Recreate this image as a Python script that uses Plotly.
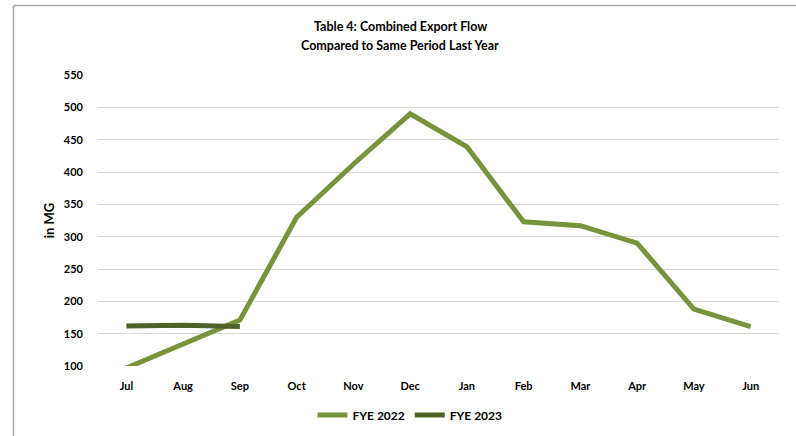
import plotly.graph_objects as go

months = ["Jul", "Aug", "Sep", "Oct", "Nov", "Dec", "Jan", "Feb", "Mar", "Apr", "May", "Jun"]
fye2022 = [97, 134, 171, 330, 412, 490, 439, 323, 317, 290, 188, 161]
fye2023_months = ["Jul", "Aug", "Sep"]
fye2023 = [162, 163, 161]
y_ticks = [100, 150, 200, 250, 300, 350, 400, 450, 500, 550]
title_lines = ["Table 4: Combined Export Flow", "Compared to Same Period Last Year"]

FONT = "Lato, Carlito, 'Liberation Sans', sans-serif"

fig = go.Figure()
fig.add_trace(go.Scatter(x=months, y=fye2022, mode="lines", name="FYE 2022",
                         line=dict(color="#77933C", width=5)))
fig.add_trace(go.Scatter(x=fye2023_months, y=fye2023, mode="lines", name="FYE 2023",
                         line=dict(color="#4F6228", width=5)))

L, R, T, B = 98, 17, 75, 70
W, H = 796, 436
pw, ph = W - L - R, H - T - B

def px2x(px):
    return (px - L) / pw

def py2y(py):
    return (H - B - py) / ph

fig.update_layout(
    width=W, height=H,
    margin=dict(l=L, r=R, t=T, b=B, autoexpand=False),
    paper_bgcolor="white", plot_bgcolor="white",
    font=dict(family=FONT, color="#000000"),
    showlegend=True,
    legend=dict(orientation="h", x=px2x(410), xanchor="center", y=py2y(415), yanchor="middle",
                font=dict(size=12, weight="bold"), itemwidth=30, tracegroupgap=0),
    xaxis=dict(type="category", categoryorder="array", categoryarray=months,
               range=[-0.5, 11.5], showgrid=False, showline=False, ticks="",
               tickfont=dict(size=11, weight="bold"), ticklabelstandoff=12,
               fixedrange=True, automargin=False),
    yaxis=dict(range=[100, 550], tickvals=y_ticks, showgrid=True, gridcolor="#D9D9D9",
               gridwidth=1, zeroline=False, showline=False, ticks="", automargin=False,
               tickfont=dict(size=11, weight="bold"), ticklabelstandoff=14,
               title=dict(text="in MG", font=dict(size=13, weight="bold"), standoff=6)),
    annotations=[
        dict(text="<b>%s</b>" % title_lines[0],
             x=px2x(400), y=py2y(27), xref="paper", yref="paper", showarrow=False,
             xanchor="center", yanchor="middle", font=dict(size=12.5), align="center"),
        dict(text="<b>%s</b>" % title_lines[1],
             x=px2x(400), y=py2y(46), xref="paper", yref="paper", showarrow=False,
             xanchor="center", yanchor="middle", font=dict(size=12.5), align="center"),
    ],
    shapes=[
        dict(type="line", xref="paper", yref="paper", x0=px2x(13.5), x1=px2x(800),
             y0=py2y(5.5), y1=py2y(5.5), line=dict(color="#A6A6A6", width=1.5)),
        dict(type="line", xref="paper", yref="paper", x0=px2x(13.5), x1=px2x(13.5),
             y0=py2y(440), y1=py2y(5.5), line=dict(color="#A6A6A6", width=1.5)),
    ],
)

fig.write_html("out.html")
